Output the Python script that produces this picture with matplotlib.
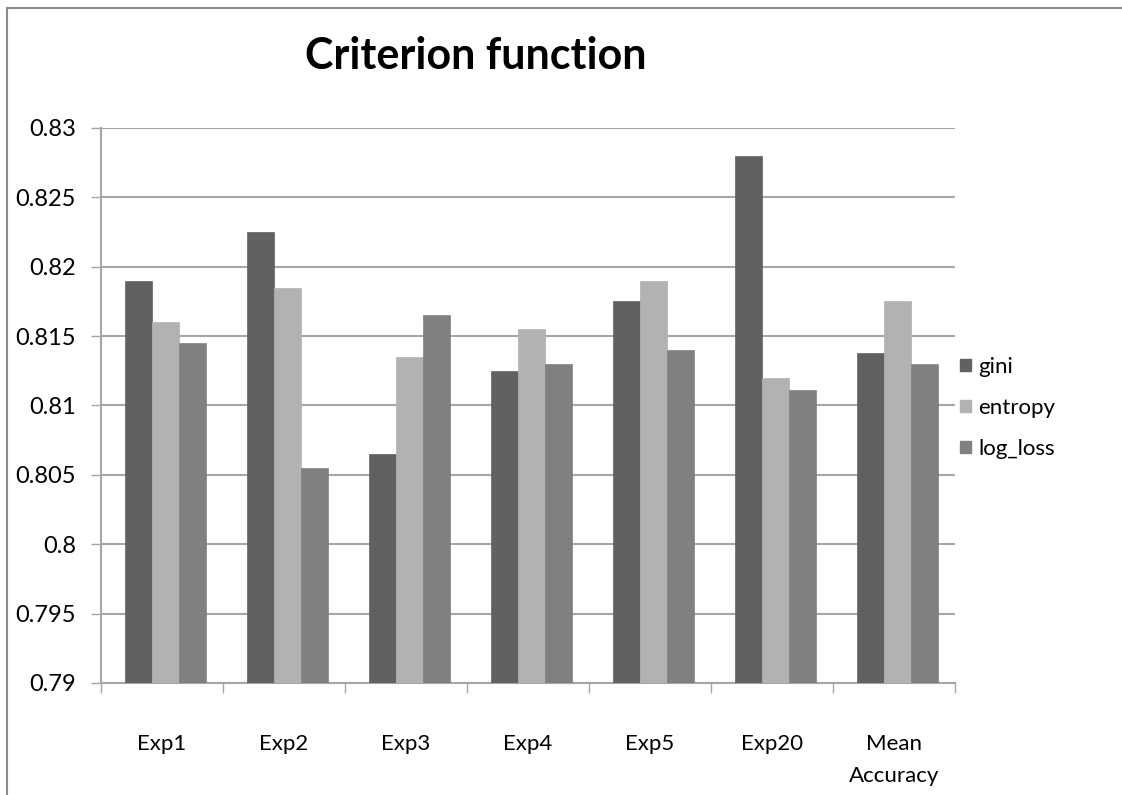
import numpy as np
import matplotlib
matplotlib.use("Agg")
import matplotlib.pyplot as plt
from matplotlib.patches import Patch
from matplotlib.lines import Line2D

plt.rcParams["font.family"] = ["Lato", "DejaVu Sans"]

CATEGORIES = ["Exp1", "Exp2", "Exp3", "Exp4", "Exp5", "Exp20", "Mean\nAccuracy"]
GINI = [0.8190, 0.8225, 0.8065, 0.8125, 0.8175, 0.8280, 0.8138]
ENTROPY = [0.8160, 0.8185, 0.8135, 0.8155, 0.8190, 0.8120, 0.8175]
LOG_LOSS = [0.8145, 0.8055, 0.8165, 0.8130, 0.8140, 0.8111, 0.8130]
SERIES = [
    ("gini", GINI, "#616161"),
    ("entropy", ENTROPY, "#b2b2b2"),
    ("log_loss", LOG_LOSS, "#808080"),
]
YTICKS = [0.79, 0.795, 0.8, 0.805, 0.81, 0.815, 0.82, 0.825, 0.83]
YLABELS = ["0.79", "0.795", "0.8", "0.805", "0.81", "0.815", "0.82", "0.825", "0.83"]

GRID = "#a6a6a6"


def main():
    fig = plt.figure(figsize=(11.22, 7.95), dpi=100)
    ax = fig.add_axes([0.090, 0.141, 0.761, 0.698])

    x = np.arange(len(CATEGORIES))
    w = 0.222
    for i, (name, vals, color) in enumerate(SERIES):
        ax.bar(x + (i - 1) * w + 0.03, vals, width=w, color=color,
               edgecolor=color, lw=0.5, zorder=3, label=name)

    ax.set_ylim(0.79, 0.83)
    ax.set_xlim(-0.5, len(CATEGORIES) - 0.5)
    ax.set_yticks(YTICKS)
    ax.set_yticklabels(YLABELS)
    ax.yaxis.grid(True, color=GRID, lw=1.5, zorder=0)

    ax.set_xticks(x)
    ax.set_xticklabels(CATEGORIES, linespacing=1.75)
    ax.set_xticks(np.arange(len(CATEGORIES) + 1) - 0.5, minor=True)
    ax.tick_params(axis="x", which="major", length=0, pad=37, labelsize=16)
    ax.tick_params(axis="x", which="minor", length=7, color=GRID, width=1)
    ax.tick_params(axis="y", length=7, color=GRID, width=1, pad=11, labelsize=17)

    for s in ("top", "right"):
        ax.spines[s].set_visible(False)
    for s in ("left", "bottom"):
        ax.spines[s].set_color(GRID)
        ax.spines[s].set_linewidth(1.5)

    fig.text(0.424, 0.929, "Criterion function", ha="center", va="center",
             fontsize=31, fontweight="bold")

    handles = [Patch(facecolor=c, edgecolor=c, label=n) for n, _, c in SERIES]
    fig.legend(handles=handles, loc="center left", bbox_to_anchor=(0.838, 0.487),
               frameon=False, fontsize=16, handlelength=0.5, handleheight=0.5,
               handletextpad=0.3, labelspacing=0.95)

    # chart area border (top and left visible)
    fig.add_artist(Line2D([0.0065, 0.0065], [0, 0.99], transform=fig.transFigure,
                          color="#8c8c8c", lw=1.5))
    fig.add_artist(Line2D([0.0065, 1.0], [0.99, 0.99], transform=fig.transFigure,
                          color="#8c8c8c", lw=1.5))

    fig.savefig("out.png", dpi=100)


if __name__ == "__main__":
    main()
